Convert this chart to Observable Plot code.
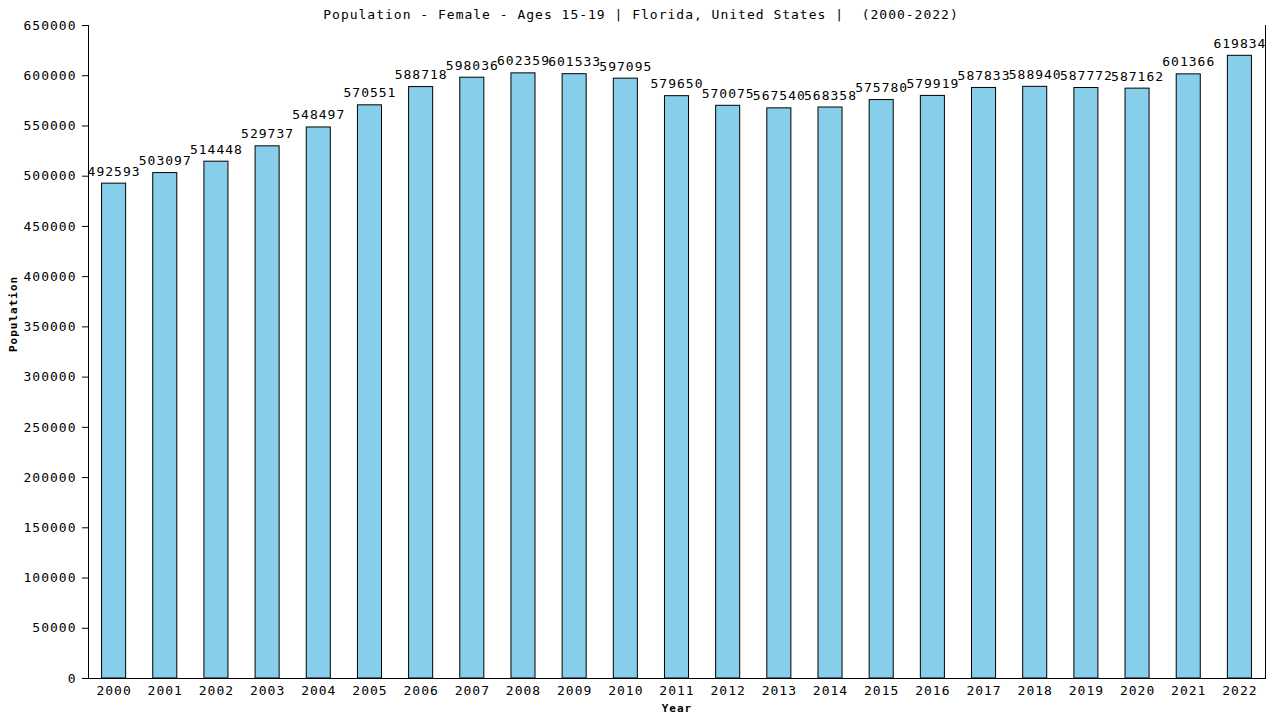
<!DOCTYPE html>
<html>
<head>
<meta charset="utf-8">
<script src="https://cdn.jsdelivr.net/npm/d3@7"></script>
<script src="https://cdn.jsdelivr.net/npm/@observablehq/plot@0.6"></script>
<style>
  html, body { margin: 0; padding: 0; background: #fff; }
</style>
</head>
<body>
<div id="chart"></div>
<script>
const years = ["2000","2001","2002","2003","2004","2005","2006","2007","2008","2009","2010","2011","2012","2013","2014","2015","2016","2017","2018","2019","2020","2021","2022"];
const population = [492593,503097,514448,529737,548497,570551,588718,598036,602359,601533,597095,579650,570075,567540,568358,575780,579919,587833,588940,587772,587162,601366,619834];
const yTicks = [0,50000,100000,150000,200000,250000,300000,350000,400000,450000,500000,550000,600000,650000];
const title = "Population - Female - Ages 15-19 | Florida, United States |  (2000-2022)";
const xLabel = "Year";
const yLabel = "Population";

const data = years.map((y, i) => ({year: y, value: population[i]}));
const font = "'DejaVu Sans Mono', monospace";

const chart = Plot.plot({
  width: 1280,
  height: 720,
  marginLeft: 88,
  marginRight: 15,
  marginTop: 25,
  marginBottom: 42,
  style: {fontFamily: font, fontSize: "13px", letterSpacing: "1px", color: "#000", background: "#fff", overflow: "visible"},
  x: {domain: years, paddingInner: 0.53, paddingOuter: 0.265, round: false, label: null, tickSize: 0, tickPadding: 7},
  y: {domain: [0, 650000], ticks: yTicks, tickFormat: "d", label: null, tickSize: 6, tickPadding: 6},
  marks: [
    Plot.barY(data, {x: "year", y: "value", fill: "#87CEEB", stroke: "#000", strokeWidth: 1}),
    Plot.text(data, {x: "year", y: "value", text: d => String(d.value), dy: -8, lineAnchor: "bottom", fontSize: 13, fill: "#000"}),
    Plot.ruleY([0], {stroke: "#000"}),
    Plot.frame({anchor: "left", stroke: "#000"}),
    Plot.frame({anchor: "right", stroke: "#000"}),
    Plot.text([title], {frameAnchor: "top", text: d => d, dx: -36, dy: -7, lineAnchor: "bottom", fontSize: 13, fill: "#000"}),
    Plot.text([yLabel], {frameAnchor: "left", text: d => d, dx: -75, rotate: -90, fontSize: 11, fontWeight: "bold", fill: "#000", style: "letter-spacing:0.3px"}),
    Plot.text([xLabel], {frameAnchor: "bottom", text: d => d, dy: 33, fontSize: 11, fontWeight: "bold", fill: "#000"})
  ]
});
document.getElementById("chart").appendChild(chart);
</script>
</body>
</html>
